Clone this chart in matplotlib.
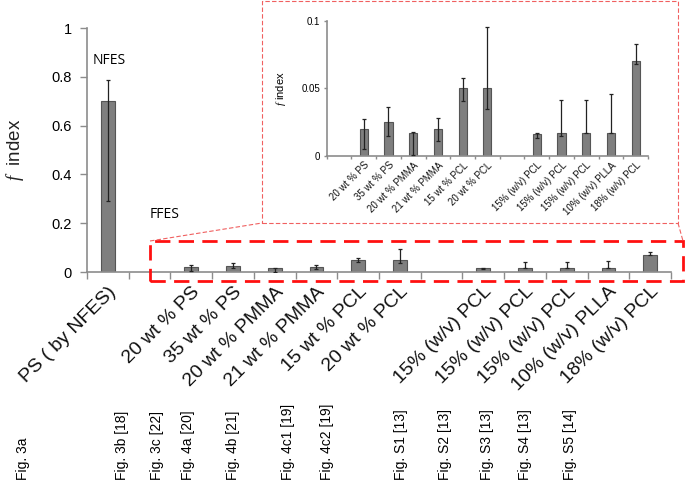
import numpy as np
import matplotlib
matplotlib.use("Agg")
import matplotlib.pyplot as plt
from matplotlib.patches import Rectangle
from matplotlib.lines import Line2D

plt.rcParams["font.family"] = ["Liberation Sans", "DejaVu Sans"]
plt.rcParams["mathtext.fontset"] = "custom"
plt.rcParams["mathtext.it"] = "Liberation Serif:italic"

# ───────────── data ─────────────
categories = ["PS ( by NFES)", "", "20 wt % PS", "35 wt % PS", "20 wt % PMMA",
              "21 wt % PMMA", "15 wt % PCL", "20 wt % PCL", "",
              "15% (w/v) PCL", "15% (w/v) PCL", "15% (w/v) PCL",
              "10% (w/v) PLLA", "18% (w/v) PCL"]
f_index = [0.70, np.nan, 0.020, 0.025, 0.017, 0.020, 0.050, 0.050, np.nan,
           0.0165, 0.017, 0.017, 0.017, 0.070]
err_low = [0.292, np.nan, 0.005, 0.015, 0.001, 0.011, 0.041, 0.035, np.nan,
           0.013, 0.015, 0.017, 0.017, 0.068]
err_high = [0.785, np.nan, 0.0275, 0.036, 0.0175, 0.0278, 0.0575, 0.095, np.nan,
            0.0168, 0.0415, 0.0413, 0.0455, 0.0825]
fig_refs = ["Fig. 3a", "Fig. 3b [18]", "Fig. 3c [22]", "Fig. 4a [20]", "Fig. 4b [21]",
            "Fig. 4c1 [19]", "Fig. 4c2 [19]", "Fig. S1 [13]", "Fig. S2 [13]",
            "Fig. S3 [13]", "Fig. S4 [13]", "Fig. S5 [14]"]
fig_ref_x = [23, 122, 157, 188, 233, 288, 327, 401, 445, 487, 525, 570]  # pixel x

W, H = 685, 484
BAR = "#7f7f7f"
EDGE = "#555555"
AXC = "#8c8c8c"


def px(x, y):
    return x / W, 1 - y / H


def _bars(ax, idx, fontsize, pad, ticklen):
    vals = np.array(f_index)[idx]
    lo = np.array(err_low)[idx]
    hi = np.array(err_high)[idx]
    x = np.arange(len(vals))
    m = ~np.isnan(vals)
    ax.bar(x[m], vals[m], width=0.33, color=BAR, edgecolor=EDGE, linewidth=0.8, zorder=2)
    ax.errorbar(x[m], vals[m], yerr=[vals[m] - lo[m], hi[m] - vals[m]], fmt="none",
                ecolor="#222222", elinewidth=0.9, capsize=1.5, capthick=0.9, zorder=3)
    ax.set_xlim(-0.5, len(vals) - 0.5)
    ax.set_xticks(x, [categories[i] for i in idx], rotation=45, ha="right",
                  rotation_mode="anchor", fontsize=fontsize)
    ax.set_xticks(np.arange(len(vals) + 1) - 0.5, minor=True)
    ax.tick_params(axis="x", which="major", length=0, pad=pad, colors="#111111")
    ax.tick_params(axis="x", which="minor", length=ticklen, color=AXC, width=1)
    ax.tick_params(axis="y", length=ticklen, color=AXC, width=1)
    for s in ("top", "right"):
        ax.spines[s].set_visible(False)
    for s in ("left", "bottom"):
        ax.spines[s].set_color(AXC)
        ax.spines[s].set_linewidth(1.2)


fig = plt.figure(figsize=(W / 100, H / 100), dpi=100)

# main axes
l, t = px(87, 28)
r, b = px(671, 272)
ax = fig.add_axes([l, b, r - l, t - b])
_bars(ax, list(range(14)), 14, 8, 5)
ax.set_ylim(0, 1)
ax.set_yticks([0, 0.2, 0.4, 0.6, 0.8, 1], ["0", "0.2", "0.4", "0.6", "0.8", "1"], fontsize=10.5)
ax.tick_params(axis="y", pad=6)
ax.set_ylabel(r"$f$  index", fontsize=13.5, color="#222222")
ax.yaxis.set_label_coords(-0.104, 0.5)

fig.text(*px(93, 60), "NFES", family="Open Sans", fontsize=10, va="center")
fig.text(*px(150, 214), "FFES", family="Open Sans", fontsize=10, va="center")

# inset
l, t = px(326.7, 20.7)
r, b = px(648, 156)
ins = fig.add_axes([l, b, r - l, t - b])
_bars(ins, list(range(1, 14)), 7, 3, 2.5)
ins.set_ylim(0, 0.1)
ins.set_yticks([0, 0.05, 0.1], ["0", "0.05", "0.1"], fontsize=7)
ins.tick_params(axis="y", pad=2)
ins.set_ylabel(r"$f$ index", fontsize=8)
ins.yaxis.set_label_coords(-0.12, 0.5)

# figure references
for xp, lab in zip(fig_ref_x, fig_refs):
    fig.text(*px(xp, 480), lab, rotation=90, ha="center", va="bottom", fontsize=10)

# zoom boxes
x0, y0 = px(150, 281)
x1, y1 = px(683, 241)
fig.add_artist(Rectangle((x0, y0), x1 - x0, y1 - y0, transform=fig.transFigure,
                         fill=False, edgecolor="#ff1010", linewidth=2,
                         linestyle=(0, (5.5, 3))))
x0, y0 = px(262, 223)
x1, y1 = px(678, 1)
fig.add_artist(Rectangle((x0, y0), x1 - x0, y1 - y0, transform=fig.transFigure,
                         fill=False, edgecolor="#f06060", linewidth=0.8,
                         linestyle=(0, (4, 2))))
for (xa, ya), (xb, yb) in [((150, 241), (262, 223)), ((678, 223), (683, 241))]:
    pa, pb = px(xa, ya), px(xb, yb)
    fig.add_artist(Line2D([pa[0], pb[0]], [pa[1], pb[1]], transform=fig.transFigure,
                          color="#f06060", linewidth=0.8, linestyle=(0, (4, 2))))

fig.savefig("out.png", dpi=100, facecolor="white")
